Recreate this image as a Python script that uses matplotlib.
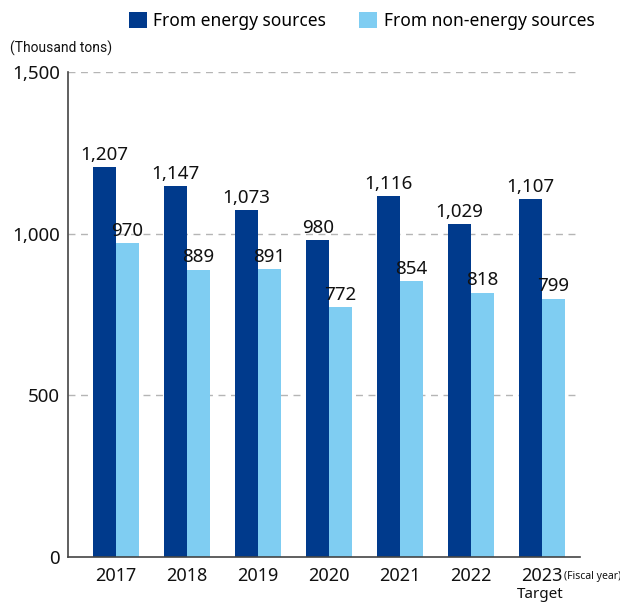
import matplotlib.pyplot as plt
import numpy as np

plt.rcParams['font.family'] = ['Noto Sans', 'DejaVu Sans']

# CO2 emissions by fiscal year (thousand tons)
years = ['2017', '2018', '2019', '2020', '2021', '2022', '2023']
energy = [1207, 1147, 1073, 980, 1116, 1029, 1107]
non_energy = [970, 889, 891, 772, 854, 818, 799]

dark = '#003a8c'
light = '#7fcdf2'

x = np.arange(len(years))
width = 0.32

fig = plt.figure(figsize=(6.2, 6.03), dpi=100)
ax = fig.add_axes([68 / 620, 46 / 603, 512 / 620, 485 / 603])

bars1 = ax.bar(x - width / 2, energy, width, color=dark, label='From energy sources')
bars2 = ax.bar(x + width / 2, non_energy, width, color=light, label='From non-energy sources')

# Value labels above each bar
for bars in (bars1, bars2):
    for b in bars:
        ax.text(b.get_x() + b.get_width() / 2, b.get_height() + 10, f'{int(b.get_height()):,}',
                ha='center', va='bottom', fontsize=13.5, color='#111111')

ax.set_xlim(-0.676, 6.535)
ax.set_ylim(0, 1500)
ax.set_yticks([0, 500, 1000, 1500])
ax.set_yticklabels(['0', '500', '1,000', '1,500'])
ax.set_xticks(x)
ax.set_xticklabels(years)
ax.tick_params(axis='both', length=0, labelsize=13, colors='#111111')
ax.tick_params(axis='y', labelsize=13.5, pad=6)
ax.tick_params(axis='x', pad=7)

for y in [500, 1000, 1500]:
    ax.axhline(y, color='#b5b5b5', linestyle=(0, (5, 4)), linewidth=1, zorder=0)

for s in ['top', 'right']:
    ax.spines[s].set_visible(False)
ax.spines['left'].set_color('#444444')
ax.spines['bottom'].set_color('#444444')
ax.spines['left'].set_linewidth(1.2)
ax.spines['bottom'].set_linewidth(1.2)

fig.text(10 / 620, 1 - 48 / 603, '(Thousand tons)', fontsize=10, va='center', ha='left',
         color='#111111', family='Roboto')
fig.text(564 / 620, 1 - 577 / 603, '(Fiscal year)', fontsize=7.5, va='center', ha='left',
         color='#111111')
fig.text(540 / 620, 1 - 595 / 603, 'Target', fontsize=11, va='center', ha='center',
         color='#111111')

fig.legend(handles=[bars1, bars2], loc='center right', bbox_to_anchor=(610 / 620, 1 - 21 / 603),
           ncol=2, frameon=False, fontsize=12.5, handlelength=1.0, handleheight=1.0,
           handletextpad=0.4, columnspacing=1.9)

fig.savefig('out.png', dpi=100)
